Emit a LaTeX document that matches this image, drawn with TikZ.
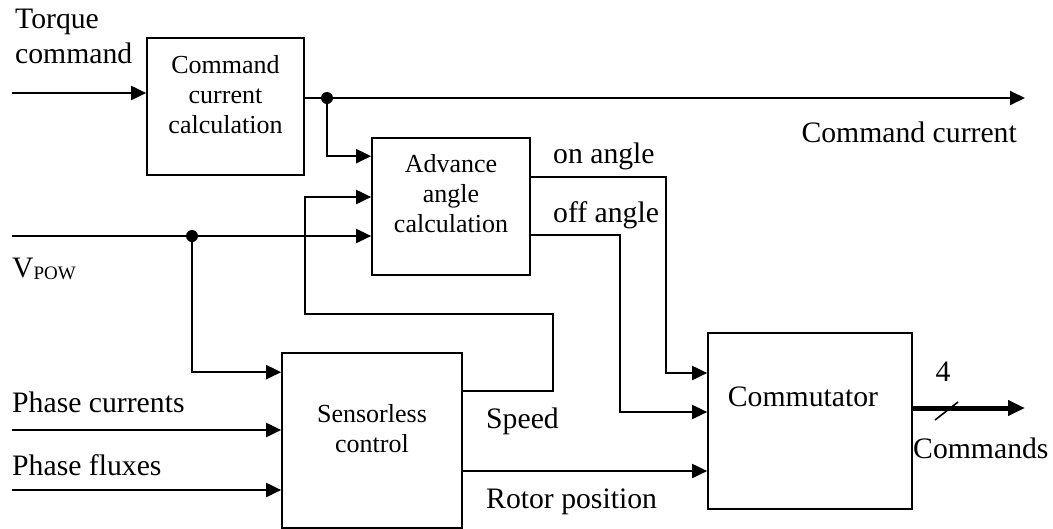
\documentclass[tikz,border=0pt]{standalone}
\usepackage{fontspec}
\setmainfont{Liberation Serif}
\usetikzlibrary{arrows.meta,calc}
\tikzset{
  box/.style={draw, line width=1.7pt, inner sep=0pt},
  conn/.style={line width=2pt},
  arr/.style={conn, -{Triangle[length=15pt,width=14pt]}},
  thickarr/.style={line width=5pt, -{Triangle[length=17pt,width=15pt]}},
  lbl/.style={font=\fontsize{29.7}{35}\selectfont, inner sep=0pt},
  blbl/.style={font=\fontsize{26}{30}\selectfont, inner sep=0pt, align=center},
  jdot/.style={fill, circle, inner sep=0pt, minimum size=12pt}
}
\begin{document}
\begin{tikzpicture}[x=1pt,y=-1pt]
\useasboundingbox (0,0) rectangle (1053,528);
% boxes
\node[box, minimum width=157pt, minimum height=137pt] (ccc) at (225.5,106.5) {};
\node[box, minimum width=158pt, minimum height=137pt] (adv) at (451,206.5) {};
\node[box, minimum width=180pt, minimum height=175pt] (sens) at (372,440.5) {};
\node[box, minimum width=204pt, minimum height=176pt] (com) at (810,421) {};
% box texts (anchor=base is the last line's baseline)
\node[blbl, anchor=base] (ccct) at (225.5,133) {Command\\current\\calculation};
\node[blbl, anchor=base] (advt) at (451,232) {Advance\\angle\\calculation};
\node[blbl, anchor=base] (senst) at (372,452) {Sensorless\\control};
\node[lbl, anchor=base] (comt) at (803,406) {Commutator};
% coordinates
\coordinate (torqueIn) at (12,93);
\coordinate (cmdEnd) at (1025,98);
\coordinate (vIn) at (12,236);
\coordinate (pcIn) at (12,430);
\coordinate (pfIn) at (12,490);
\coordinate (cmdsEnd) at (1025,408);
\coordinate (spdA) at (553,314);
\coordinate (spdB) at (305,197);
\coordinate (onTurn) at (666,373);
\coordinate (offTurn) at (620,412);
\coordinate (rotorOut) at (462,471);
\coordinate (slashA) at (935,420);
\coordinate (slashB) at (958,402);
% junction dots
\node[jdot] (dot1) at (327,98) {};
\node[jdot] (dot2) at (192,236) {};
% connectors
\draw[arr] (torqueIn) -- (torqueIn -| ccc.west);
\draw[arr] (ccc.east |- cmdEnd) -- (cmdEnd);
\draw[arr] (dot1.center) |- ($(adv.north west)+(0,19)$);
\draw[arr] ($(sens.north east)+(0,39)$) -| (spdA) -| (spdB) -- (spdB -| adv.west);
\draw[arr] (vIn) -- (vIn -| adv.west);
\draw[arr] (dot2.center) |- ($(sens.north west)+(0,20)$);
\draw[arr] (pcIn) -- (pcIn -| sens.west);
\draw[arr] (pfIn) -- (pfIn -| sens.west);
\draw[arr] ($(adv.north east)+(0,40)$) -| (onTurn) -- (onTurn -| com.west);
\draw[arr] ($(adv.north east)+(0,98)$) -| (offTurn) -- (offTurn -| com.west);
\draw[arr] (rotorOut -| sens.east) -- (rotorOut -| com.west);
\draw[thickarr] (com.east |- cmdsEnd) -- (cmdsEnd);
\draw[line width=1.6pt] (slashA) -- (slashB);
% labels
\node[lbl, anchor=base west, align=left] (torque) at (15,63) {Torque\\command};
\node[lbl, anchor=base east] (cmdcur) at (1017,142) {Command current};
\node[lbl, anchor=base west] (onang) at (553,163) {on angle};
\node[lbl, anchor=base west] (offang) at (553,222) {off angle};
\node[lbl, anchor=base west] (vpow) at (12,277) {V{\fontsize{19}{19}\selectfont\raisebox{-2pt}{POW}}};
\node[lbl, anchor=base west] (phc) at (12,412) {Phase currents};
\node[lbl, anchor=base west] (phf) at (12,475) {Phase fluxes};
\node[lbl, anchor=base west] (speed) at (486,428) {Speed};
\node[lbl, anchor=base west] (rotor) at (486,508) {Rotor position};
\node[lbl, anchor=base] (four) at (943,381) {4};
\node[lbl, anchor=base west] (cmds) at (913,458) {Commands};
\end{tikzpicture}
\end{document}
